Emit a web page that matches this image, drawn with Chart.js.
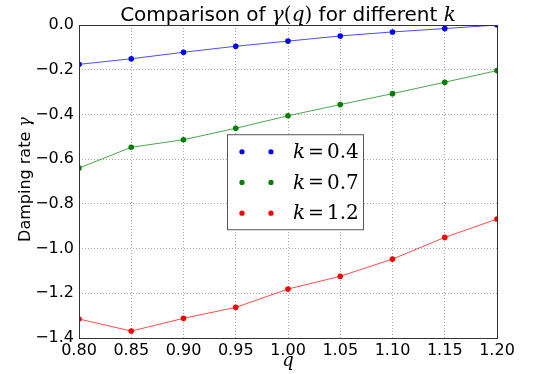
<!DOCTYPE html>
<html>
<head>
<meta charset="utf-8">
<script src="https://cdn.jsdelivr.net/npm/chart.js@4"></script>
<style>
  html, body { margin: 0; padding: 0; background: #fff; }
  #wrap { width: 536px; height: 374px; }
</style>
</head>
<body>
<div id="wrap"><canvas id="myChart" width="536" height="374"></canvas></div>
<script>
// values
const qValues = [0.80, 0.85, 0.90, 0.95, 1.00, 1.05, 1.10, 1.15, 1.20];
const gammaK04 = [-0.176, -0.151, -0.122, -0.095, -0.072, -0.049, -0.031, -0.016, 0.000];
const gammaK07 = [-0.640, -0.547, -0.513, -0.462, -0.406, -0.356, -0.307, -0.256, -0.204];
const gammaK12 = [-1.315, -1.369, -1.312, -1.263, -1.181, -1.124, -1.047, -0.950, -0.868];
const kLabels = ["0.4", "0.7", "1.2"];
const xTicks = [0.80, 0.85, 0.90, 0.95, 1.00, 1.05, 1.10, 1.15, 1.20];
const yTicks = [0.0, -0.2, -0.4, -0.6, -0.8, -1.0, -1.2, -1.4];

const colors = ["#0000ff", "#008000", "#ff0000"];
const lineColors = ["rgba(0,0,255,0.7)", "rgba(0,128,0,0.7)", "rgba(255,0,0,0.7)"];
const series = [gammaK04, gammaK07, gammaK12];

function toPoints(vals) {
  return qValues.map((q, i) => ({ x: q, y: vals[i] }));
}

const SANS = '"DejaVu Sans", sans-serif';
const SERIF = '"DejaVu Serif", serif';

// draws text pieces in a row, each with its own font (gap = extra px after piece)
function drawPieces(ctx, pieces, x, y, align) {
  let total = 0;
  pieces.forEach(p => { ctx.font = p.font; total += ctx.measureText(p.t).width + (p.gap || 0); });
  let cx = align === "center" ? x - total / 2 : x;
  ctx.textAlign = "left";
  pieces.forEach(p => {
    ctx.font = p.font;
    ctx.fillText(p.t, cx, y);
    cx += ctx.measureText(p.t).width + (p.gap || 0);
  });
}

const decorPlugin = {
  id: "decor",
  afterDatasetsDraw(chart) {
    const ctx = chart.ctx;
    const a = chart.chartArea;
    ctx.save();
    // frame
    ctx.strokeStyle = "#333";
    ctx.lineWidth = 1;
    ctx.strokeRect(a.left + 0.5, a.top + 0.5, a.right - a.left, a.bottom - a.top);

    // title
    ctx.fillStyle = "#000";
    ctx.textBaseline = "alphabetic";
    drawPieces(ctx, [
      { t: "Comparison of ", font: "20px " + SANS },
      { t: "γ", font: "italic 20px " + SERIF },
      { t: "(", font: "20px " + SERIF },
      { t: "q", font: "italic 20px " + SERIF },
      { t: ")", font: "20px " + SERIF },
      { t: " for different ", font: "20px " + SANS },
      { t: "k", font: "italic 20px " + SERIF }
    ], (a.left + a.right) / 2, 21, "center");

    // x label
    drawPieces(ctx, [{ t: "q", font: "italic 18px " + SERIF }], (a.left + a.right) / 2, 366, "center");

    // y label
    ctx.save();
    ctx.translate(30, (a.top + a.bottom) / 2 - 2);
    ctx.rotate(-Math.PI / 2);
    drawPieces(ctx, [
      { t: "Damping rate ", font: "16px " + SANS },
      { t: "γ", font: "italic 16px " + SERIF }
    ], 0, 0, "center");
    ctx.restore();

    // legend box
    const w = a.right - a.left, h = a.bottom - a.top;
    const bx = a.left + w * 0.354, by = a.top + h * 0.349;
    const bw = 136, bh = 95;
    ctx.fillStyle = "#fff";
    ctx.fillRect(bx, by, bw, bh);
    ctx.strokeStyle = "#555";
    ctx.strokeRect(bx + 0.5, by + 0.5, bw, bh);
    kLabels.forEach((lab, i) => {
      const ry = by + 17.5 + i * 30.7;
      ctx.fillStyle = colors[i];
      [bx + 15, bx + 44].forEach(px => {
        ctx.beginPath();
        ctx.arc(px, ry, 2.6, 0, Math.PI * 2);
        ctx.fill();
      });
      ctx.fillStyle = "#000";
      ctx.textBaseline = "middle";
      drawPieces(ctx, [
        { t: "k", font: "italic 20px " + SERIF, gap: 3 },
        { t: "=", font: "19px " + SERIF, gap: 3 },
        { t: lab, font: "20px " + SERIF }
      ], bx + 66, ry + 1, "left");
    });
    ctx.restore();
  }
};

const datasets = series.map((vals, i) => ({
  label: "k=" + kLabels[i],
  data: toPoints(vals),
  borderColor: lineColors[i],
  backgroundColor: colors[i],
  pointBackgroundColor: colors[i],
  pointBorderColor: colors[i],
  borderWidth: 1,
  pointRadius: 2.8,
  pointBorderWidth: 0,
  tension: 0,
  clip: 0
}));

const ctx = document.getElementById("myChart").getContext("2d");
new Chart(ctx, {
  type: "line",
  data: { datasets: datasets },
  options: {
    responsive: false,
    animation: false,
    layout: { padding: { top: 25, right: 39, left: 0, bottom: 0 } },
    plugins: { legend: { display: false }, title: { display: false }, tooltip: { enabled: false } },
    scales: {
      x: {
        type: "linear",
        min: 0.8, max: 1.2,
        afterBuildTicks: s => { s.ticks = xTicks.map(v => ({ value: v })); },
        afterFit: s => { s.height = 36; },
        grid: { color: "#aaa", drawTicks: false },
        border: { display: false, dash: [1, 2] },
        ticks: {
          color: "#000", padding: 3,
          font: { family: "DejaVu Sans", size: 16 },
          maxRotation: 0, autoSkip: false,
          callback: v => v.toFixed(2)
        }
      },
      y: {
        type: "linear",
        min: -1.4, max: 0,
        afterBuildTicks: s => { s.ticks = yTicks.map(v => ({ value: v })); },
        afterFit: s => { s.width = 79; },
        grid: { color: "#aaa", drawTicks: false },
        border: { display: false, dash: [1, 2] },
        ticks: {
          color: "#000", padding: 5,
          font: { family: "DejaVu Sans", size: 16 },
          autoSkip: false,
          callback: v => (v < 0 ? "\u2212" : "") + Math.abs(v).toFixed(1)
        }
      }
    }
  },
  plugins: [decorPlugin]
});
</script>
</body>
</html>
